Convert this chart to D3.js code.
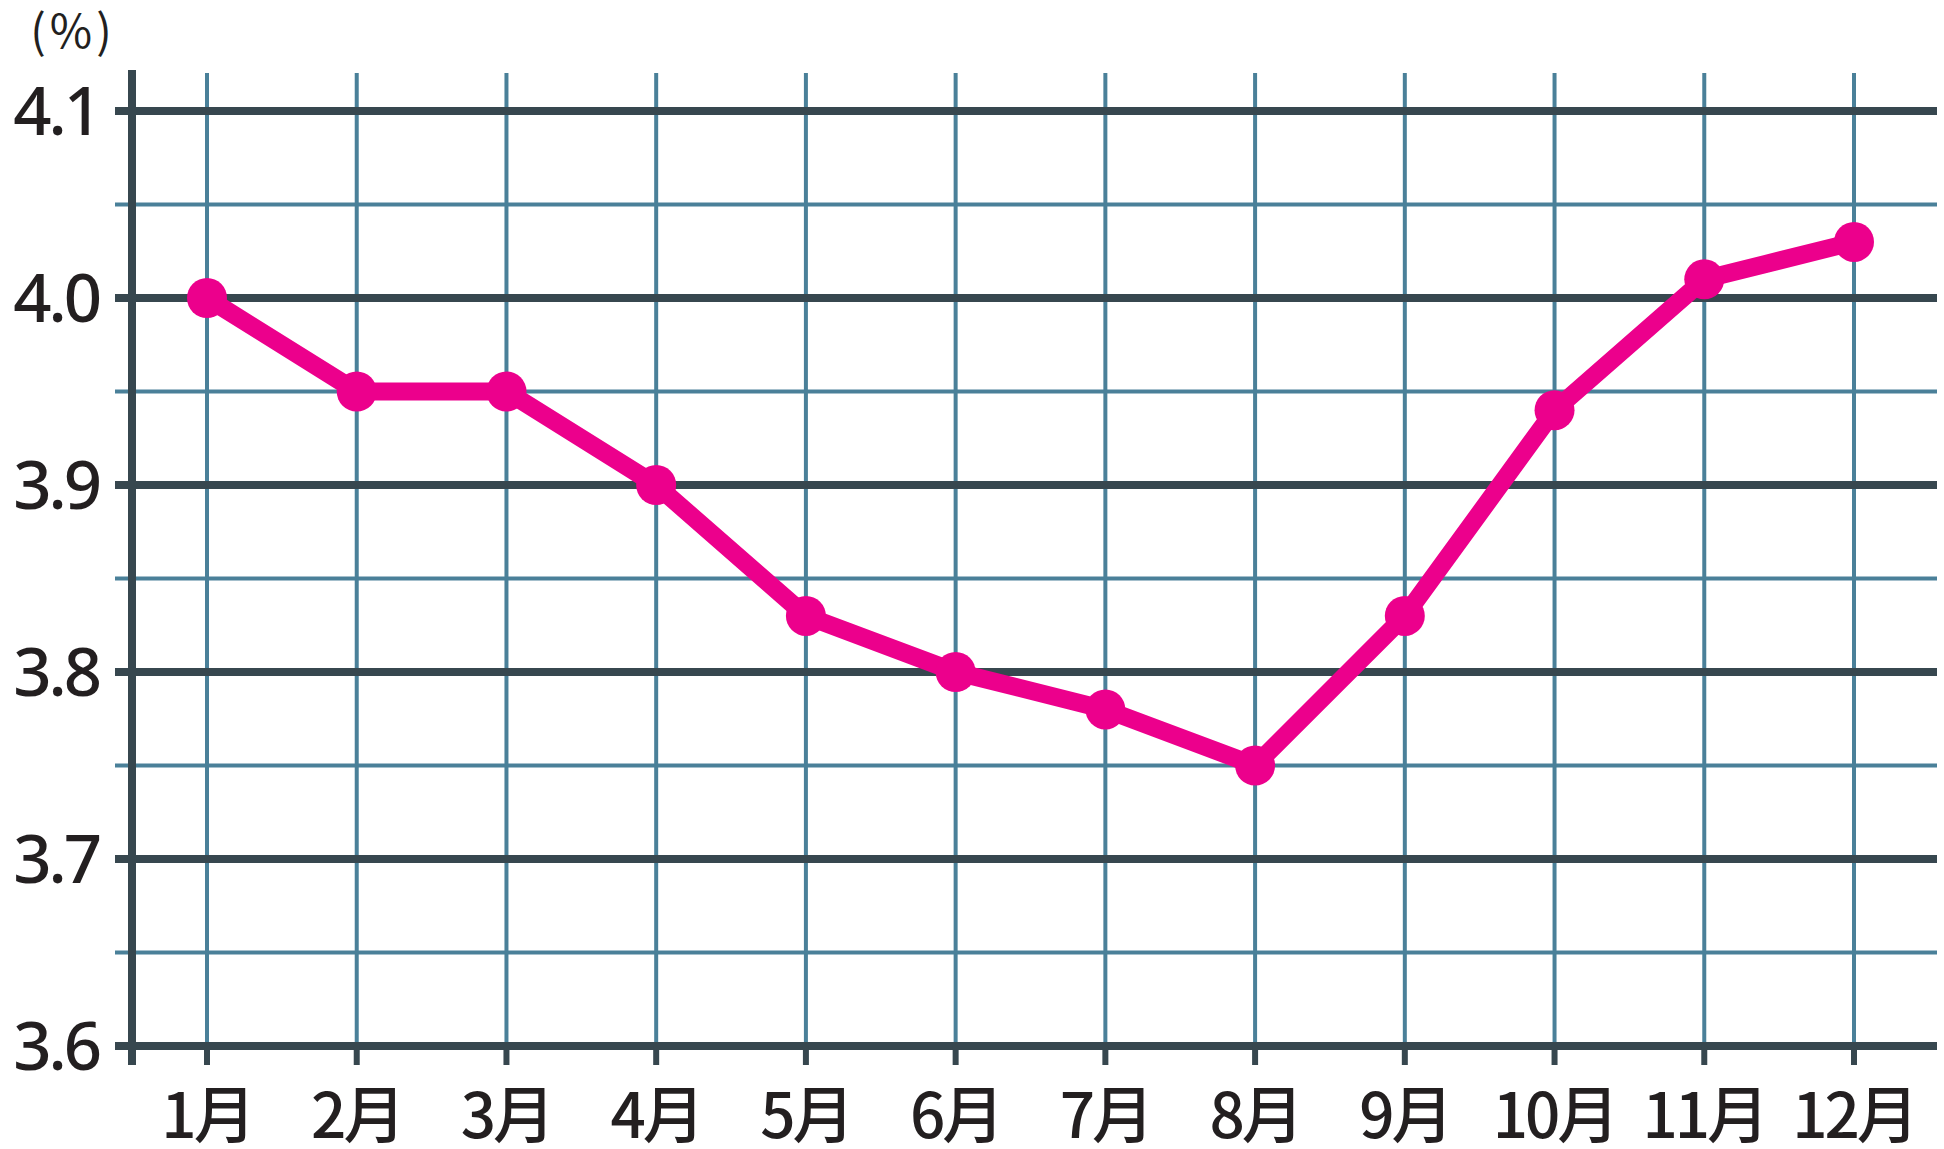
<!DOCTYPE html>
<html>
<head>
<meta charset="utf-8">
<script src="https://cdn.jsdelivr.net/npm/d3@7"></script>
<style>
  body { margin: 0; background: #fff; }
  text { fill: #231f20; }
</style>
</head>
<body>
<div id="chart"></div>
<script>
var months = ["1月","2月","3月","4月","5月","6月","7月","8月","9月","10月","11月","12月"];
var rates = [4.00, 3.95, 3.95, 3.90, 3.83, 3.80, 3.78, 3.75, 3.83, 3.94, 4.01, 4.03];
var majorTicks = [3.6, 3.7, 3.8, 3.9, 4.0, 4.1];
var minorTicks = [3.65, 3.75, 3.85, 3.95, 4.05];

var width = 1944, height = 1149;
var axisX = 132, gridRight = 1937;

var svg = d3.select("#chart").append("svg")
    .attr("width", width)
    .attr("height", height);

var x = d3.scalePoint()
    .domain(months)
    .range([207, 1854]);

var y = d3.scaleLinear()
    .domain([3.6, 4.1])
    .range([1046, 111]);

var dark = "#37474f", teal = "#4a8099", pink = "#ec008c";

// vertical grid
svg.append("g").selectAll("line")
    .data(months).enter().append("line")
    .attr("x1", d => x(d)).attr("x2", d => x(d))
    .attr("y1", 73).attr("y2", y(3.6))
    .attr("stroke", teal).attr("stroke-width", 4);

// minor horizontal
svg.append("g").selectAll("line")
    .data(minorTicks).enter().append("line")
    .attr("x1", 115).attr("x2", gridRight)
    .attr("y1", d => y(d)).attr("y2", d => y(d))
    .attr("stroke", teal).attr("stroke-width", 4);

// major horizontal
svg.append("g").selectAll("line")
    .data(majorTicks).enter().append("line")
    .attr("x1", 115).attr("x2", gridRight)
    .attr("y1", d => y(d)).attr("y2", d => y(d))
    .attr("stroke", dark).attr("stroke-width", 8);

// bottom ticks
svg.append("g").selectAll("line")
    .data(months).enter().append("line")
    .attr("x1", d => x(d)).attr("x2", d => x(d))
    .attr("y1", y(3.6)).attr("y2", 1065)
    .attr("stroke", dark).attr("stroke-width", 6);

// y axis line
svg.append("line")
    .attr("x1", axisX).attr("x2", axisX)
    .attr("y1", 70).attr("y2", 1065)
    .attr("stroke", dark).attr("stroke-width", 8);

// y labels
svg.append("g").selectAll("text")
    .data(majorTicks).enter().append("text")
    .attr("x", 99).attr("y", d => y(d))
    .attr("dy", "0.36em")
    .attr("text-anchor", "end")
    .style("font-family", "'Noto Sans', sans-serif")
    .style("font-weight", 500)
    .style("font-size", "67px")
    .style("letter-spacing", "-3px")
    .text(d => d3.format(".1f")(d));

// unit
svg.append("text")
    .attr("x", 73).attr("y", 48)
    .attr("text-anchor", "middle")
    .style("font-family", "'Noto Sans CJK JP', sans-serif")
    .style("font-size", "46px")
    .style("letter-spacing", "4px")
    .text("(%)");

// x labels
svg.append("g").selectAll("text")
    .data(months).enter().append("text")
    .attr("x", d => x(d)).attr("y", 1138)
    .attr("text-anchor", "middle")
    .style("font-family", "'Noto Sans CJK JP', sans-serif")
    .style("font-weight", 500)
    .style("font-size", "62px")
    .style("letter-spacing", "-3px")
    .text(d => d);

// line
var line = d3.line()
    .x((d, i) => x(months[i]))
    .y(d => y(d));

svg.append("path")
    .datum(rates)
    .attr("d", line)
    .attr("fill", "none")
    .attr("stroke", pink)
    .attr("stroke-width", 18)
    .attr("stroke-linejoin", "round");

svg.append("g").selectAll("circle")
    .data(rates).enter().append("circle")
    .attr("cx", (d, i) => x(months[i]))
    .attr("cy", d => y(d))
    .attr("r", 20)
    .attr("fill", pink);
</script>
</body>
</html>
